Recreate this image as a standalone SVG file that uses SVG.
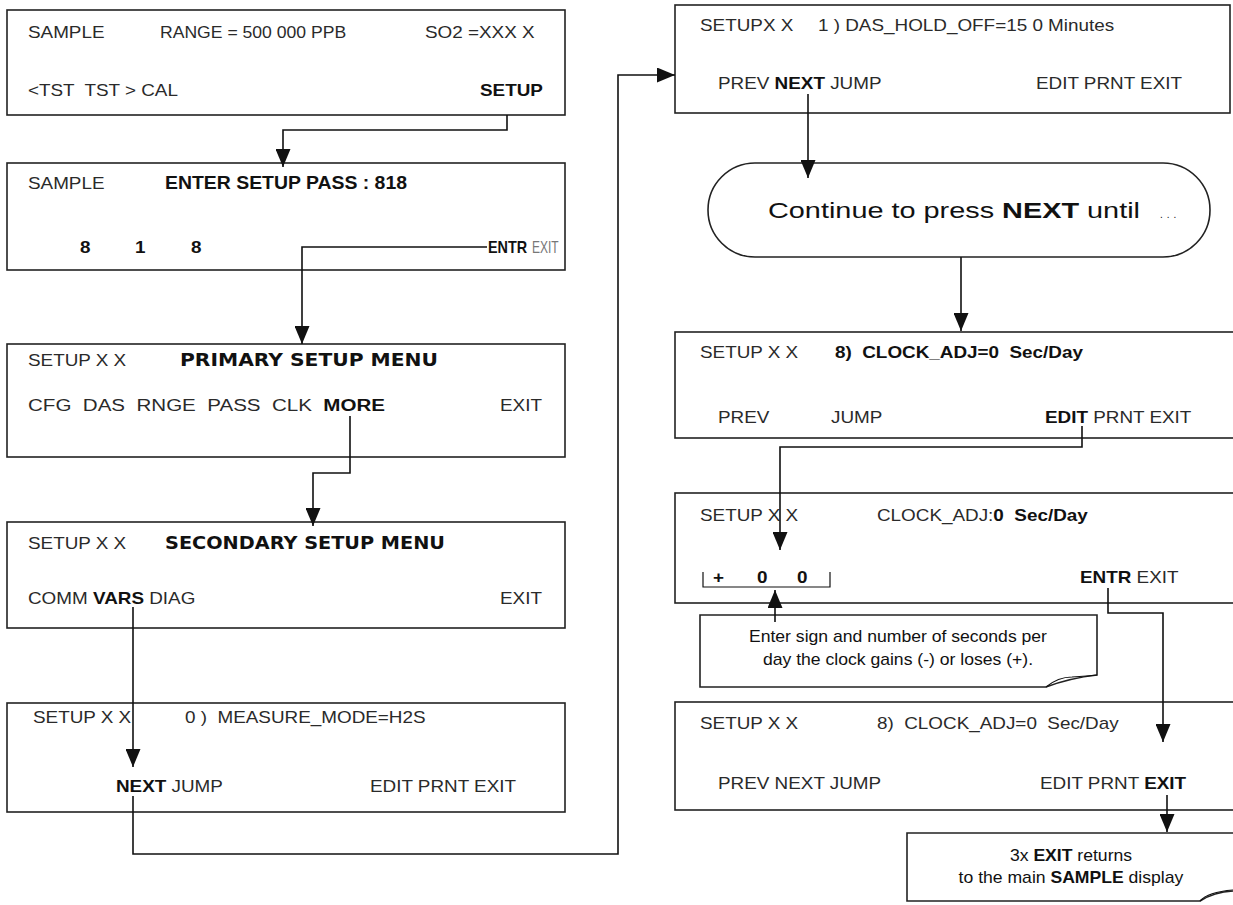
<svg xmlns="http://www.w3.org/2000/svg" width="1233" height="905" viewBox="0 0 1233 905">
<style>
.box{fill:#fff;stroke:#222;stroke-width:1.6}
.t{font-family:"Liberation Sans",Arial,sans-serif;font-size:16px;fill:#2a2a2a;white-space:pre;transform-box:fill-box;transform-origin:0 0;transform:scaleX(1.18)}
.b{font-weight:bold;fill:#111}
.h{font-family:"DejaVu Sans",Verdana,sans-serif;font-weight:bold;font-size:17px;fill:#111}
.g{fill:#777}
.c{stroke:#111;stroke-width:1.6;fill:none}
.big{font-family:"Liberation Sans",Arial,sans-serif;font-size:22px;fill:#111;white-space:pre}
.n{font-family:"Liberation Sans Narrow","Liberation Sans",Arial,sans-serif;font-size:16px;fill:#111;transform-box:fill-box;transform-origin:50% 0;transform:scaleX(1.1)}
</style>
<defs>
<marker id="ah" viewBox="0 0 18 15" refX="18" refY="7.5" markerWidth="18" markerHeight="15" markerUnits="userSpaceOnUse" orient="auto">
<path d="M0,0 L18,7.5 L0,15 z" fill="#111"/>
</marker>
</defs>

<g id="box-sample">
<rect class="box" x="7" y="10" width="558" height="105"/>
<text class="t" x="28" y="38">SAMPLE</text>
<text class="t" x="160" y="38" style="transform:scaleX(1.1)">RANGE = 500 000 PPB</text>
<text class="t" x="425" y="38">SO2 =XXX X</text>
<text class="t" x="28" y="96">&lt;TST  TST &gt; CAL</text>
<text class="t b" x="480" y="96">SETUP</text>
</g>

<g id="box-pass">
<rect class="box" x="7" y="163" width="558" height="107"/>
<text class="t" x="28" y="189">SAMPLE</text>
<text class="t b" x="165" y="189" style="font-size:18px;transform:none" textLength="242" lengthAdjust="spacingAndGlyphs">ENTER SETUP PASS : 818</text>
<text class="t b" x="80" y="253">8</text>
<text class="t b" x="135" y="253">1</text>
<text class="t b" x="191" y="253">8</text>
<text class="t b" x="488" y="253" style="transform:scaleX(0.9)">ENTR</text>
<text class="t g" x="532" y="253" style="transform:scaleX(0.75)">EXIT</text>
</g>

<g id="box-primary">
<rect class="box" x="7" y="344" width="558" height="113"/>
<text class="t" x="28" y="366">SETUP X X</text>
<text class="h" x="180" y="366" textLength="258" lengthAdjust="spacingAndGlyphs">PRIMARY SETUP MENU</text>
<text class="t" x="28" y="411" style="transform:none" textLength="357" lengthAdjust="spacingAndGlyphs">CFG  DAS  RNGE  PASS  CLK  <tspan class="b">MORE</tspan></text>
<text class="t" x="500" y="411">EXIT</text>
</g>

<g id="box-secondary">
<rect class="box" x="7" y="522" width="558" height="106"/>
<text class="t" x="28" y="549">SETUP X X</text>
<text class="h" x="165" y="549" textLength="280" lengthAdjust="spacingAndGlyphs">SECONDARY SETUP MENU</text>
<text class="t" x="28" y="604">COMM <tspan class="b">VARS</tspan> DIAG</text>
<text class="t" x="500" y="604">EXIT</text>
</g>

<g id="box-measure">
<rect class="box" x="7" y="703" width="558" height="109"/>
<text class="t" x="33" y="723">SETUP X X</text>
<text class="t" x="185" y="723">0 )  MEASURE_MODE=H2S</text>
<text class="t" x="116" y="792"><tspan class="b">NEXT</tspan> JUMP</text>
<text class="t" x="370" y="792">EDIT PRNT EXIT</text>
</g>

<g id="box-holdoff">
<rect class="box" x="675" y="5" width="555" height="108"/>
<text class="t" x="700" y="31">SETUPX X</text>
<text class="t" x="818" y="31">1 ) DAS_HOLD_OFF=15 0 Minutes</text>
<text class="t" x="718" y="89">PREV <tspan class="b">NEXT</tspan> JUMP</text>
<text class="t" x="1036" y="89">EDIT PRNT EXIT</text>
</g>

<g id="note-continue">
<rect class="box" x="708" y="163" width="502" height="94" rx="47" ry="47"/>
<text class="big" x="768" y="218" textLength="372" lengthAdjust="spacingAndGlyphs">Continue to press <tspan font-weight="bold">NEXT</tspan> until</text>
<text class="big" x="1160" y="218" style="font-size:10px;letter-spacing:4px">...</text>
</g>

<g id="box-clockadj">
<rect class="box" x="675" y="332" width="570" height="106"/>
<text class="t" x="700" y="358">SETUP X X</text>
<text class="t b" x="835" y="358">8)  CLOCK_ADJ=0  Sec/Day</text>
<text class="t" x="718" y="423">PREV</text>
<text class="t" x="831" y="423">JUMP</text>
<text class="t" x="1045" y="423"><tspan class="b">EDIT</tspan> PRNT EXIT</text>
</g>

<g id="box-clockedit">
<rect class="box" x="675" y="493" width="570" height="110"/>
<text class="t" x="700" y="521">SETUP X X</text>
<text class="t" x="877" y="521">CLOCK_ADJ:<tspan class="b">0  Sec/Day</tspan></text>
<path class="c" d="M703,572 V587 H830 V572" style="stroke-width:1.2"/>
<text class="t b" x="713" y="583">+</text>
<text class="t b" x="757" y="583">0</text>
<text class="t b" x="797" y="583">0</text>
<text class="t" x="1080" y="583"><tspan class="b">ENTR</tspan> EXIT</text>
</g>

<g id="note-sign">
<path class="box" d="M700,615 H1097 V675 Q1070,678 1046,687 H700 Z"/>
<path class="c" d="M1046,687 Q1058,677 1072,677 Q1088,676 1097,675" style="stroke-width:1.2"/>
<text class="n" x="898" y="642" text-anchor="middle">Enter sign and number of seconds per</text>
<text class="n" x="898" y="665" text-anchor="middle">day the clock gains (-) or loses (+).</text>
</g>

<g id="box-clocksaved">
<rect class="box" x="675" y="702" width="570" height="108"/>
<text class="t" x="700" y="729">SETUP X X</text>
<text class="t" x="877" y="729">8)  CLOCK_ADJ=0  Sec/Day</text>
<text class="t" x="718" y="789">PREV NEXT JUMP</text>
<text class="t" x="1040" y="789">EDIT PRNT <tspan class="b">EXIT</tspan></text>
</g>

<g id="note-exit">
<path class="box" d="M907,833 H1245 V890 L1233,891 Q1214,892 1200,901 H907 Z"/>
<path class="c" d="M1200,901 Q1208,892 1233,890" style="stroke-width:1.2"/>
<text class="n" x="1071" y="861" text-anchor="middle">3x <tspan font-weight="bold">EXIT</tspan> returns</text>
<text class="n" x="1071" y="883" text-anchor="middle">to the main <tspan font-weight="bold">SAMPLE</tspan> display</text>
</g>

<g id="connectors">
<path class="c" d="M507,115 V130 H283 V167" marker-end="url(#ah)"/>
<path class="c" d="M487,247 H302 V344" marker-end="url(#ah)"/>
<path class="c" d="M350,416 V473 H313 V526" marker-end="url(#ah)"/>
<path class="c" d="M133,607 V767" marker-end="url(#ah)"/>
<path class="c" d="M133,796 V854 H618 V75 H675" marker-end="url(#ah)"/>
<path class="c" d="M808,94 V178" marker-end="url(#ah)"/>
<path class="c" d="M961,257 V331" marker-end="url(#ah)"/>
<path class="c" d="M1082,426 V447 H780 V550" marker-end="url(#ah)"/>
<path class="c" d="M775,622 V590" marker-end="url(#ah)"/>
<path class="c" d="M1108,588 V613 H1163 V742" marker-end="url(#ah)"/>
<path class="c" d="M1167,795 V832" marker-end="url(#ah)"/>
</g>
</svg>
